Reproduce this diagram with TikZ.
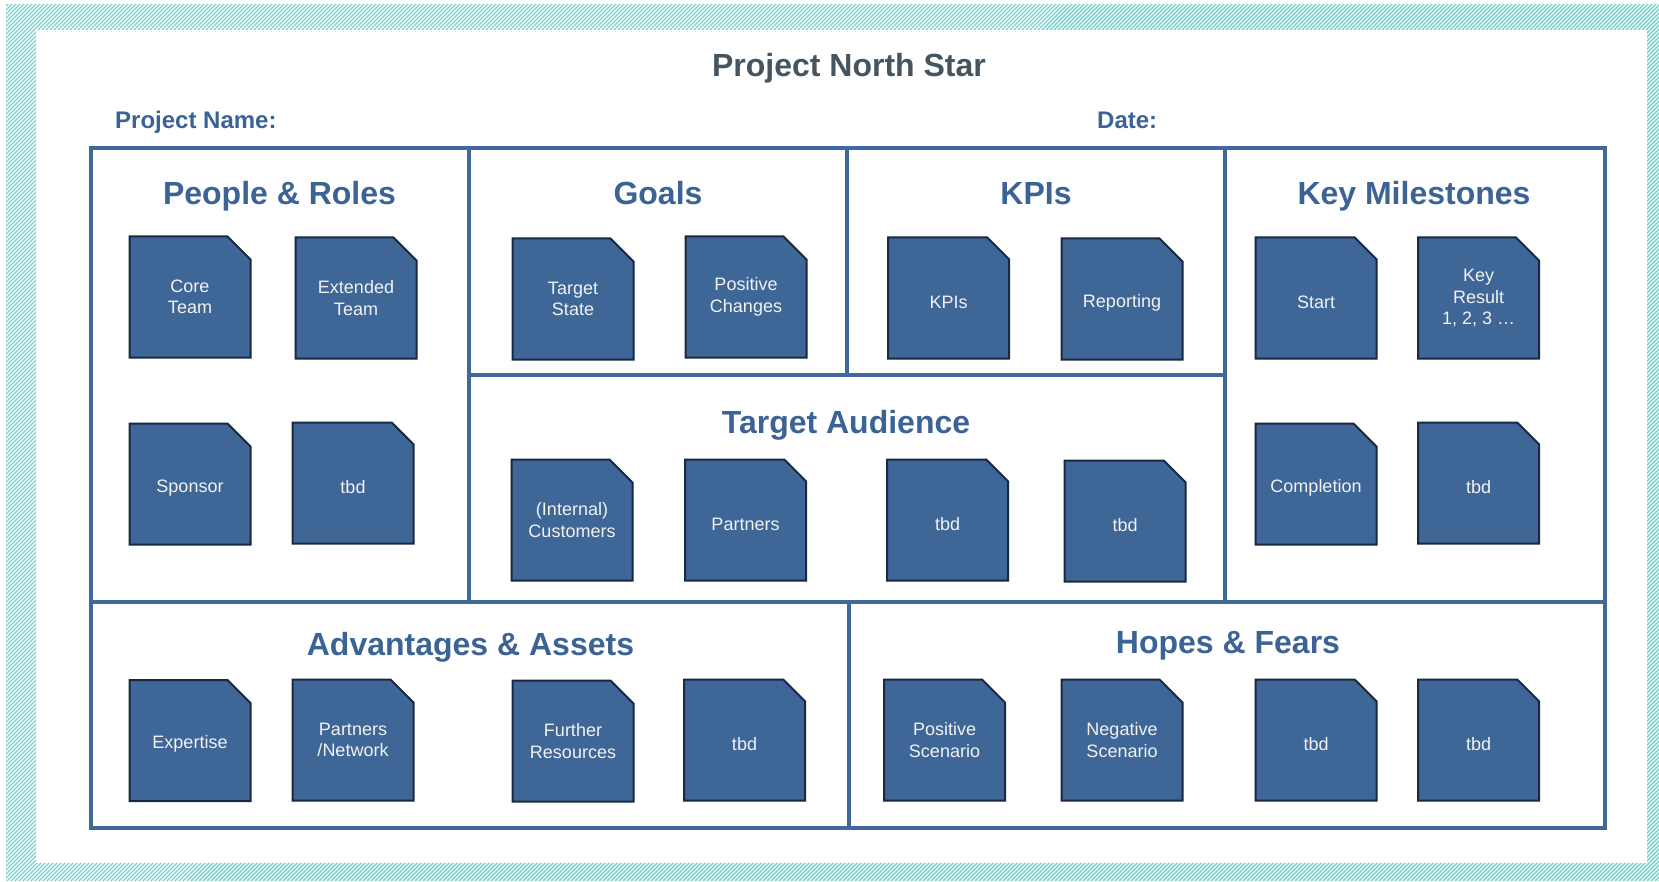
\documentclass[tikz,border=0pt]{standalone}
\usepackage{fontspec}
\setmainfont{Liberation Sans}
\usetikzlibrary{shapes.misc}

\definecolor{frameblue}{RGB}{64,104,152}
\definecolor{cardfill}{RGB}{62,102,150}
\definecolor{cardedge}{RGB}{24,40,64}
\definecolor{cardtext}{RGB}{242,242,242}
\definecolor{titleblue}{RGB}{59,99,150}
\definecolor{headgray}{RGB}{69,85,95}
\definecolor{hatchteal}{RGB}{126,206,202}

\tikzset{
  frameline/.style={draw=frameblue, line width=4pt},
  card/.style={chamfered rectangle, chamfered rectangle corners=north east,
    chamfered rectangle xsep=11.5pt, chamfered rectangle ysep=11.5pt,
    draw=cardedge, fill=cardfill, line width=2pt, minimum width=121pt,
    minimum height=121pt, inner sep=0pt, text=cardtext, align=center,
    execute at begin node={\rule{0pt}{20.5pt}},
    font=\fontsize{18}{21.5}\selectfont},
  sectitle/.style={anchor=base, inner sep=0pt, text=titleblue,
    font=\fontsize{32}{38}\selectfont\bfseries},
  fieldlabel/.style={anchor=base west, inner sep=0pt, text=titleblue,
    font=\fontsize{24}{28}\selectfont\bfseries}
}

\begin{document}
\begin{tikzpicture}[x=1pt, y=-1pt]
    \useasboundingbox (0,0) rectangle (1659,882);

    % hatched border
    \begin{scope}
        \clip (6,5) rectangle (1659,880);
        \foreach \k in {0,4,...,2560}
            \draw[hatchteal, line width=1.4pt] (\k-882,882) -- (\k,0);
    \end{scope}
    \fill[white] (36,30) rectangle (1647,863);

    % heading
    \node[anchor=base, inner sep=0pt, text=headgray,
          font=\fontsize{32}{38}\selectfont\bfseries] (heading) at (849,77) {Project North Star};
    \node[fieldlabel] (pname) at (115,129) {Project Name:};
    \node[fieldlabel] (pdate) at (1097,129) {Date:};

    % canvas frame
    \draw[frameline] (90.5,148.5) rectangle (1605,827.5);
    \draw[frameline] (469,148.5) -- (469,602);
    \draw[frameline] (847,148.5) -- (847,375);
    \draw[frameline] (1225,148.5) -- (1225,602);
    \draw[frameline] (469,375) -- (1225,375);
    \draw[frameline] (90.5,602) -- (1605,602);
    \draw[frameline] (848.5,602) -- (848.5,827.5);

    % section titles
    \node[sectitle] (people) at (279.5,205) {People \& Roles};
    \node[sectitle] (goals) at (658,205) {Goals};
    \node[sectitle] (kpis) at (1036,205) {KPIs};
    \node[sectitle] (milestones) at (1414,205) {Key Milestones};
    \node[sectitle] (audience) at (846,433) {Target Audience};
    \node[sectitle] (assets) at (470.5,655) {Advantages \& Assets};
    \node[sectitle] (hopes) at (1228,653) {Hopes \& Fears};

    % People & Roles
    \node[card] (coreteam) at (190,297) {Core\\Team};
    \node[card] (extteam) at (356,298) {Extended\\Team};
    \node[card] (sponsor) at (190,484) {Sponsor};
    \node[card] (peopletbd) at (353,483) {tbd};

    % Goals
    \node[card] (targetstate) at (573,299) {Target\\State};
    \node[card] (poschanges) at (746,297) {Positive\\Changes};

    % KPIs
    \node[card] (kpicard) at (948.5,298) {KPIs};
    \node[card] (reporting) at (1122,299) {Reporting};

    % Key Milestones
    \node[card] (start) at (1316,298) {Start};
    \node[card] (keyresult) at (1478.5,298) {Key\\Result\\1, 2, 3 …};
    \node[card] (completion) at (1316,484) {Completion};
    \node[card] (miletbd) at (1478.5,483) {tbd};

    % Target Audience
    \node[card] (customers) at (572,520) {(Internal)\\Customers};
    \node[card] (partners) at (745.5,520) {Partners};
    \node[card] (audtbda) at (947.5,520) {tbd};
    \node[card] (audtbdb) at (1125,521) {tbd};

    % Advantages & Assets
    \node[card] (expertise) at (190,740.5) {Expertise};
    \node[card] (network) at (353,740) {Partners\\/Network};
    \node[card] (resources) at (573,741) {Further\\Resources};
    \node[card] (assettbd) at (744.5,740) {tbd};

    % Hopes & Fears
    \node[card] (posscen) at (944.5,740) {Positive\\Scenario};
    \node[card] (negscen) at (1122,740) {Negative\\Scenario};
    \node[card] (hopetbda) at (1316,740) {tbd};
    \node[card] (hopetbdb) at (1478.5,740) {tbd};
\end{tikzpicture}
\end{document}
